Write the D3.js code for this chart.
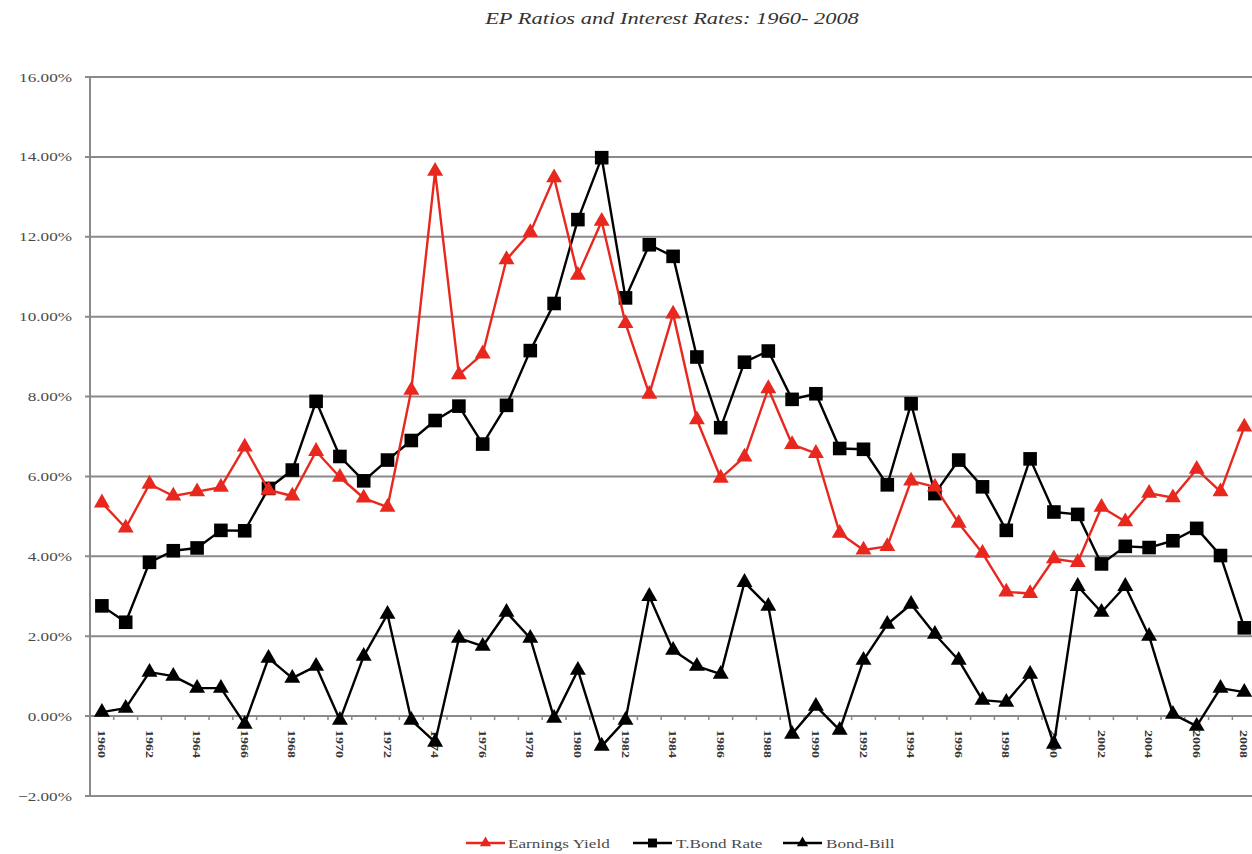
<!DOCTYPE html>
<html>
<head>
<meta charset="utf-8">
<script src="https://cdn.jsdelivr.net/npm/d3@7"></script>
<style>
  html, body { margin: 0; background: #fff; }
  svg { display: block; }
  text { font-family: "Liberation Serif", "Times New Roman", serif; }
</style>
</head>
<body>
<svg id="chart" width="1252" height="854"></svg>
<script>
// Annual observations, 1960-2008 (percent)
const years = [1960,1961,1962,1963,1964,1965,1966,1967,1968,1969,
               1970,1971,1972,1973,1974,1975,1976,1977,1978,1979,
               1980,1981,1982,1983,1984,1985,1986,1987,1988,1989,
               1990,1991,1992,1993,1994,1995,1996,1997,1998,1999,
               2000,2001,2002,2003,2004,2005,2006,2007,2008];

const earningsYield = [5.34,4.71,5.81,5.51,5.62,5.73,6.74,5.66,5.51,6.63,
                       5.98,5.46,5.23,8.16,13.64,8.55,9.07,11.43,12.11,13.48,
                       11.04,12.39,9.83,8.06,10.07,7.42,5.96,6.49,8.20,6.80,
                       6.58,4.58,4.16,4.25,5.89,5.74,4.83,4.08,3.11,3.07,
                       3.94,3.85,5.23,4.87,5.58,5.47,6.18,5.62,7.24];

const tBondRate = [2.76,2.35,3.85,4.14,4.21,4.65,4.64,5.70,6.16,7.88,
                   6.50,5.89,6.41,6.90,7.40,7.76,6.81,7.78,9.15,10.33,
                   12.43,13.98,10.47,11.80,11.51,8.99,7.22,8.86,9.14,7.93,
                   8.07,6.70,6.68,5.79,7.82,5.57,6.41,5.74,4.65,6.44,
                   5.11,5.05,3.81,4.25,4.22,4.39,4.70,4.02,2.21];

const bondBill = [0.10,0.20,1.10,1.00,0.70,0.70,-0.20,1.45,0.95,1.25,
                  -0.10,1.50,2.55,-0.10,-0.65,1.95,1.75,2.60,1.95,-0.05,
                  1.15,-0.75,-0.10,3.00,1.65,1.25,1.05,3.35,2.75,-0.45,
                  0.25,-0.35,1.40,2.30,2.80,2.05,1.40,0.40,0.35,1.05,
                  -0.70,3.25,2.60,3.25,2.00,0.05,-0.25,0.70,0.60];

const yTicks = [-2, 0, 2, 4, 6, 8, 10, 12, 14, 16];
const xLabelYears = years.filter(yr => yr % 2 === 0);
const seriesNames = ["Earnings Yield", "T.Bond Rate", "Bond-Bill"];

const titleText = "EP Ratios and Interest Rates: 1960- 2008";

// ---- layout ----
const svg = d3.select("#chart");
const plotLeft = 90, plotTop = 77, plotBottom = 796, bandW = 23.8;
const plotRight = plotLeft + bandW * years.length;
const gridColor = "#8a8a8a";
const textColor = "#4a4a4a";
const red = "#e8281e";
const stretch = 1.32; // horizontal stretch applied to the serif labels

const x = d3.scaleBand().domain(years).range([plotLeft, plotRight]).padding(0);
const cx = yr => x(yr) + x.bandwidth() / 2;
const y = d3.scaleLinear().domain([-2, 16]).range([plotBottom, plotTop]);

// ---- title ----
svg.append("text")
  .attr("transform", `translate(672,24) scale(${stretch},1)`)
  .attr("text-anchor", "middle")
  .attr("font-size", 17)
  .attr("font-style", "italic")
  .attr("fill", "#333")
  .text(titleText);

// ---- horizontal gridlines and value axis ----
svg.append("g").selectAll("line")
  .data(yTicks)
  .join("line")
  .attr("x1", plotLeft - 5).attr("x2", plotRight)
  .attr("y1", d => y(d)).attr("y2", d => y(d))
  .attr("stroke", gridColor)
  .attr("stroke-width", 2);

svg.append("line")
  .attr("x1", plotLeft).attr("x2", plotLeft)
  .attr("y1", plotTop).attr("y2", plotBottom)
  .attr("stroke", gridColor)
  .attr("stroke-width", 2);

svg.append("g").selectAll("text")
  .data(yTicks)
  .join("text")
  .attr("transform", d => `translate(72,${y(d)}) scale(${stretch},1)`)
  .attr("text-anchor", "end")
  .attr("dy", "0.35em")
  .attr("font-size", 13)
  .attr("fill", textColor)
  .text(d => d3.format(".2f")(d) + "%");

// ---- category axis along 0% ----
const y0 = y(0);
svg.append("g").selectAll("line")
  .data(years.concat([null]))
  .join("line")
  .attr("x1", (d, i) => plotLeft + i * x.bandwidth())
  .attr("x2", (d, i) => plotLeft + i * x.bandwidth())
  .attr("y1", y0).attr("y2", y0 + 4)
  .attr("stroke", gridColor)
  .attr("stroke-width", 1.5);

svg.append("g").selectAll("text")
  .data(xLabelYears)
  .join("text")
  .attr("transform", d => `translate(${cx(d) - 4},${y0 + 14}) rotate(90)`)
  .attr("font-size", 11)
  .attr("font-weight", "bold")
  .attr("textLength", 28)
  .attr("lengthAdjust", "spacingAndGlyphs")
  .attr("fill", "#333")
  .text(d => d);

// ---- series ----
const series = [
  { name: seriesNames[0], values: earningsYield, color: red, symbol: d3.symbolTriangle, size: 110 },
  { name: seriesNames[1], values: tBondRate, color: "#000", symbol: d3.symbolSquare, size: 185 },
  { name: seriesNames[2], values: bondBill, color: "#000", symbol: d3.symbolTriangle, size: 110 }
];

const line = d3.line()
  .x(d => cx(d.year))
  .y(d => y(d.v));

// later series are drawn first so the earnings-yield line sits on top
[...series].reverse().forEach(s => {
  const pts = years.map((yr, i) => ({ year: yr, v: s.values[i] }));
  const g = svg.append("g");
  g.append("path")
    .datum(pts)
    .attr("d", line)
    .attr("fill", "none")
    .attr("stroke", s.color)
    .attr("stroke-width", 2.4)
    .attr("stroke-linejoin", "round");
  g.selectAll("path.mk")
    .data(pts)
    .join("path")
    .attr("class", "mk")
    .attr("d", d3.symbol(s.symbol, s.size))
    .attr("transform", d => `translate(${cx(d.year)},${y(d.v)})`)
    .attr("fill", s.color);
});

// ---- legend ----
const legendItems = [
  { s: series[0], x: 466, tx: 508 },
  { s: series[1], x: 633, tx: 676 },
  { s: series[2], x: 783, tx: 826 }
];
const ly = 843;
const lg = svg.append("g");
legendItems.forEach(it => {
  lg.append("line")
    .attr("x1", it.x).attr("x2", it.x + 39)
    .attr("y1", ly).attr("y2", ly)
    .attr("stroke", it.s.color)
    .attr("stroke-width", 2.4);
  lg.append("path")
    .attr("d", d3.symbol(it.s.symbol, it.s.symbol === d3.symbolSquare ? 80 : 55))
    .attr("transform", `translate(${it.x + 19.5},${ly})`)
    .attr("fill", it.s.color);
  lg.append("text")
    .attr("transform", `translate(${it.tx},${ly}) scale(${stretch},1)`)
    .attr("dy", "0.35em")
    .attr("font-size", 13)
    .attr("fill", textColor)
    .text(it.s.name);
});
</script>
</body>
</html>
